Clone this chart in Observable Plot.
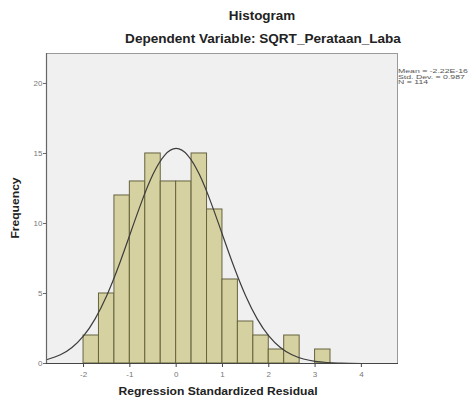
<!DOCTYPE html>
<html>
<head>
<meta charset="utf-8">
<script src="https://cdn.jsdelivr.net/npm/d3@7"></script>
<script src="https://cdn.jsdelivr.net/npm/@observablehq/plot@0.6"></script>
<style>
  html, body { margin: 0; padding: 0; background: #fff; }
  #wrap { position: relative; width: 472px; height: 400px; overflow: hidden; font-family: "Liberation Sans", Arial, sans-serif; }
  #chart { position: absolute; left: 0; top: 0; }
  .t { position: absolute; white-space: nowrap; color: #222; font-weight: bold; }
  #title { left: 262px; top: 9px; transform: translateX(-50%) scaleX(1.12); font-size: 12px; }
  #subtitle { left: 263px; top: 32px; transform: translateX(-50%) scaleX(1.13); font-size: 12px; }
  #xlabel { left: 218px; top: 385px; transform: translateX(-50%) scaleX(1.1); font-size: 11px; }
  #ylabel { left: 15px; top: 208px; transform: translate(-50%, -50%) rotate(-90deg) scaleX(1.1); font-size: 11px; }
  #stats { position: absolute; left: 398px; top: 69px; font-size: 6px; line-height: 5.6px; color: #555; white-space: nowrap; transform: scaleX(1.45); transform-origin: left top; }
</style>
</head>
<body>
<div id="wrap">
  <div id="chart"></div>
  <div class="t" id="title">Histogram</div>
  <div class="t" id="subtitle">Dependent Variable: SQRT_Perataan_Laba</div>
  <div class="t" id="xlabel">Regression Standardized Residual</div>
  <div class="t" id="ylabel">Frequency</div>
  <div id="stats"></div>
</div>
<script>
// Histogram bins (lower / upper edges) and counts
const binLo = [-2, -1.667, -1.333, -1, -0.667, -0.333, 0, 0.333, 0.667, 1, 1.333, 1.667, 2, 2.333, 2.667, 3];
const binHi = [-1.667, -1.333, -1, -0.667, -0.333, 0, 0.333, 0.667, 1, 1.333, 1.667, 2, 2.333, 2.667, 3, 3.333];
const counts = [2, 5, 12, 13, 15, 13, 13, 15, 11, 6, 3, 2, 1, 2, 0, 1];

// Normal curve
const curveX = [-2.8, -2.5, -2.25, -2, -1.75, -1.5, -1.25, -1, -0.75, -0.5, -0.25, 0, 0.25, 0.5, 0.75, 1, 1.25, 1.5, 1.75, 2, 2.25, 2.5, 2.75, 3, 3.25, 3.5, 3.75, 4, 4.78];
const curveY = [0.27, 0.62, 1.14, 1.97, 3.19, 4.84, 6.89, 9.2, 11.51, 13.51, 14.87, 15.36, 14.87, 13.51, 11.51, 9.2, 6.89, 4.84, 3.19, 1.97, 1.14, 0.62, 0.32, 0.15, 0.07, 0.03, 0.01, 0, 0];

// Axis ticks and domains
const xTicks = [-2, -1, 0, 1, 2, 3, 4];
const yTicks = [0, 5, 10, 15, 20];
const xDomain = [-2.8, 4.78];
const yDomain = [0, 22.14];

// Summary statistics
const statLines = ["Mean = -2.22E-16", "Std. Dev. = 0.987", "N = 114"];

const bins = counts.map((c, i) => ({lo: binLo[i], hi: binHi[i], count: c}));
const curve = curveX.map((x, i) => ({x, y: curveY[i]}));

const plot = Plot.plot({
  width: 472,
  height: 400,
  marginLeft: 46,
  marginRight: 75,
  marginTop: 53,
  marginBottom: 37,
  style: {fontFamily: "Liberation Sans, Arial, sans-serif", fontSize: "8px", color: "#777", background: "transparent"},
  x: {domain: xDomain, label: null},
  y: {domain: yDomain, label: null},
  marks: [
    Plot.frame({fill: "#f0f0f0", stroke: "#9a9a9a"}),
    Plot.rectY(bins, {x1: "lo", x2: "hi", y: "count", fill: "#d6d1a0", stroke: "#66633f", strokeWidth: 1}),
    Plot.line(curve, {x: "x", y: "y", stroke: "#3c3c3c", strokeWidth: 1.2, curve: "natural"}),
    Plot.ruleY([yDomain[0]], {stroke: "#444", strokeWidth: 1.2}),
    Plot.ruleX([xDomain[0]], {stroke: "#666", strokeWidth: 1.2}),
    Plot.axisX({ticks: xTicks, tickFormat: d => String(d), tickSize: 4, tickPadding: 4, stroke: "#444", fill: "#777", label: null}),
    Plot.axisY({ticks: yTicks, tickFormat: d => String(d), tickSize: 3, tickPadding: 1, stroke: "#666", fill: "#777", label: null})
  ]
});
document.getElementById("chart").appendChild(plot);
document.getElementById("stats").innerHTML = statLines.join("<br>");
</script>
</body>
</html>
